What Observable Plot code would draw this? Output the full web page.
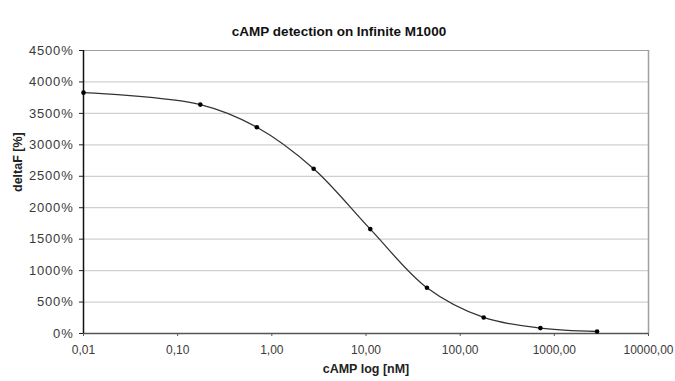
<!DOCTYPE html>
<html>
<head>
<meta charset="utf-8">
<script src="https://cdn.jsdelivr.net/npm/d3@7"></script>
<script src="https://cdn.jsdelivr.net/npm/@observablehq/plot@0.6"></script>
<style>
  html, body { margin: 0; padding: 0; background: #fff; }
  #chart { width: 675px; height: 381px; overflow: hidden; }
</style>
</head>
<body>
<div id="chart"></div>
<script>
// cAMP concentration (nM); first point is the zero-cAMP control plotted at 0.01
const concentration = [0.01, 0.174, 0.694, 2.78, 11.1, 44.4, 177.7, 711, 2844];
// deltaF (%)
const deltaF = [3830, 3640, 3280, 2620, 1660, 727, 255, 86, 32];

const xTicks = [0.01, 0.1, 1, 10, 100, 1000, 10000];
const yTicks = [0, 500, 1000, 1500, 2000, 2500, 3000, 3500, 4000, 4500];

const titleText = "cAMP detection on Infinite M1000";
const xLabel = "cAMP log [nM]";
const yLabel = "deltaF [%]";

const data = concentration.map((c, i) => ({c, v: deltaF[i]}));

const fmtX = d => d3.format(".2f")(d).replace(".", ",");

const chart = Plot.plot({
  width: 675,
  height: 381,
  marginLeft: 83,
  marginRight: 27,
  marginTop: 50,
  marginBottom: 48,
  style: {fontFamily: "'Liberation Sans', Arial, sans-serif", fontSize: "12px", color: "#333", background: "#fff", overflow: "visible"},
  x: {type: "log", domain: [0.01, 10000]},
  y: {domain: [0, 4500]},
  marks: [
    Plot.gridY(yTicks, {stroke: "#d0d0d0", strokeOpacity: 1, strokeWidth: 1.2}),
    Plot.ruleY([4500], {stroke: "#a0a0a0", strokeWidth: 1.2}),
    Plot.ruleX([10000], {stroke: "#a0a0a0", strokeWidth: 1.5}),
    Plot.axisY({ticks: yTicks, tickSize: 4, tickFormat: null, text: null, label: null, stroke: "#222"}),
    Plot.text(yTicks, {x: 0.01, y: d => d, text: d => `${d}%`, textAnchor: "end", dx: -10, fontSize: 13, fill: "#3a3a3a", style: "letter-spacing:0.8px"}),
    Plot.axisX({ticks: xTicks, tickSize: 3, tickPadding: 9, tickFormat: fmtX, label: null, stroke: "#555", fill: "#3a3a3a", fontSize: 12}),
    Plot.ruleY([0], {stroke: "#555", strokeWidth: 1.5}),
    Plot.ruleX([0.01], {stroke: "#111", strokeWidth: 1.5}),
    Plot.line(data, {x: "c", y: "v", curve: "catmull-rom", stroke: "#333", strokeWidth: 1.3}),
    Plot.dot(data, {x: "c", y: "v", r: 2.3, fill: "#000", stroke: "none"}),
    Plot.text([titleText], {frameAnchor: "top", dx: -27, dy: -24, fontSize: 13.5, fontWeight: "bold", fill: "#111", text: d => d}),
    Plot.text([xLabel], {frameAnchor: "bottom", dy: 39, fontSize: 12.5, fontWeight: "bold", fill: "#222", text: d => d}),
    Plot.text([yLabel], {frameAnchor: "left", dx: -66, rotate: -90, fontSize: 12.5, fontWeight: "bold", fill: "#222", text: d => d})
  ]
});
d3.select(chart).selectAll('g[aria-label="text"] text').filter(function() { return /%$/.test(this.textContent) && this.textContent !== yLabel; })
  .style("letter-spacing", "0.8px");
document.getElementById("chart").append(chart);
</script>
</body>
</html>
